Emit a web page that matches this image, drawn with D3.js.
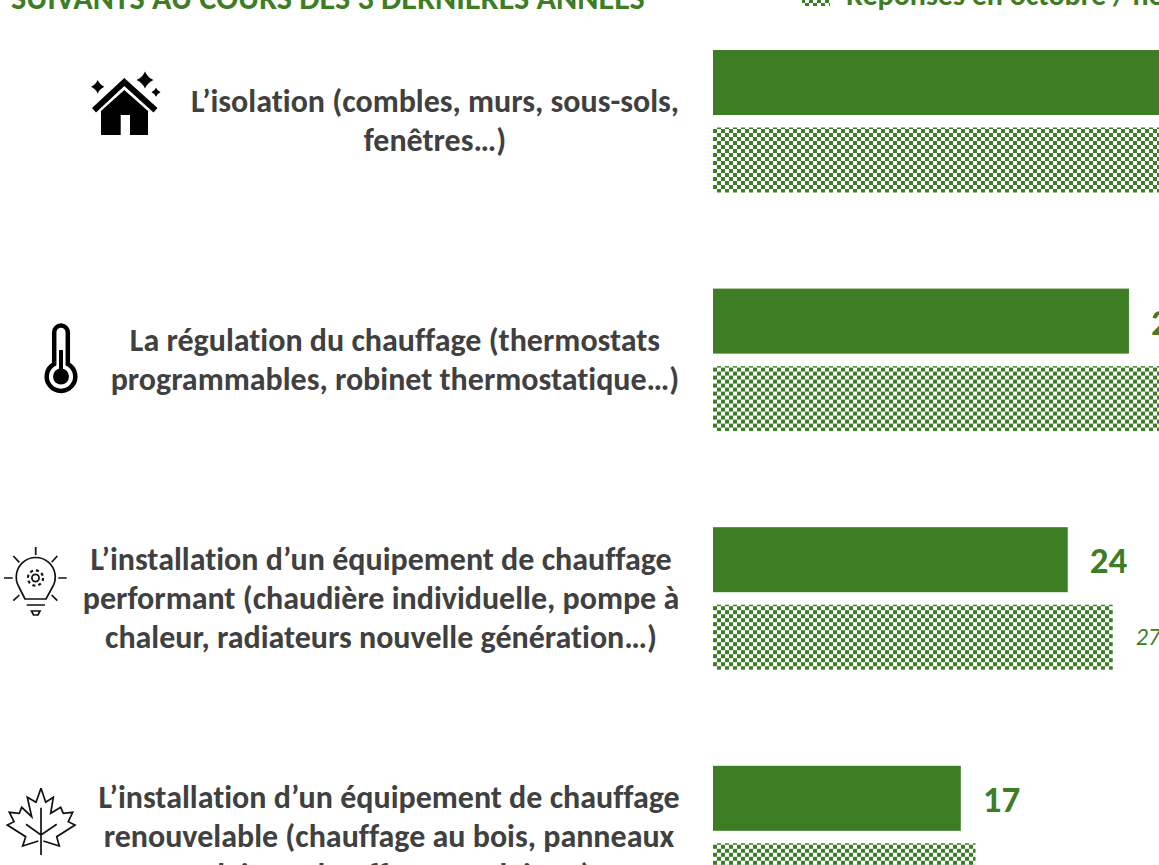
<!DOCTYPE html>
<html>
<head>
<meta charset="utf-8">
<script src="https://cdn.jsdelivr.net/npm/d3@7"></script>
<style>
  html, body { margin: 0; padding: 0; background: #fff; overflow: hidden; }
  text { font-family: Carlito, Lato, "Open Sans", sans-serif; font-variant-ligatures: none; }
</style>
</head>
<body>
<div id="chart"></div>
<script>
// values, the first ones run past the right edge
const categories = ["isolation", "regulation", "equipement", "renouvelable"];
const currentValues = [41, 28.2, 24.05, 16.8];
const previousValues = [39, 31, 27.1, 17.8];
const categoryLines = [
  ["L’isolation (combles, murs, sous-sols,", "fenêtres…)"],
  ["La régulation du chauffage (thermostats", "programmables, robinet thermostatique…)"],
  ["L’installation d’un équipement de chauffage", "performant (chaudière individuelle, pompe à", "chaleur, radiateurs nouvelle génération…)"],
  ["L’installation d’un équipement de chauffage", "renouvelable (chauffage au bois, panneaux", "solaires, chauffe-eau solaire…)"]
];
const titleText = "SUIVANTS AU COURS DES 3 DERNIÈRES ANNÉES";
const legendText = "Réponses en octobre / novembre";

const width = 1159;
const height = 865;
const green = "#3d7d23";
const grey = "#404040";

const svg = d3.select("#chart")
    .append("svg")
    .attr("width", width)
    .attr("height", height)
    .style("display", "block");

// checker fill of the second series
const pattern = svg.append("defs").append("pattern")
    .attr("id", "checker")
    .attr("patternUnits", "userSpaceOnUse")
    .attr("width", 8)
    .attr("height", 8)
    .attr("x", 713)
    .attr("y", 127);
pattern.append("rect").attr("width", 4).attr("height", 4).attr("fill", green);
pattern.append("rect").attr("x", 4).attr("y", 4).attr("width", 4).attr("height", 4).attr("fill", green);

const x = d3.scaleLinear().domain([0, 10]).range([713, 860.5]);
const y = d3.scaleBand().domain(categories).range([50, 50 + 238.6 * 4]);
const fmt = d3.format(".0f");

const rows = svg.selectAll(".row")
    .data(categories)
    .enter()
    .append("g")
    .attr("class", "row")
    .attr("transform", (d) => "translate(0," + y(d) + ")");

rows.append("rect")
    .attr("x", x(0))
    .attr("y", 0)
    .attr("width", (d, i) => x(currentValues[i]) - x(0))
    .attr("height", 65)
    .attr("fill", green);

rows.append("rect")
    .attr("x", x(0))
    .attr("y", 77.5)
    .attr("width", (d, i) => x(previousValues[i]) - x(0))
    .attr("height", 65)
    .attr("fill", "url(#checker)");

rows.append("text")
    .attr("x", (d, i) => x(currentValues[i]) + 22)
    .attr("y", 46)
    .attr("font-size", 37)
    .attr("font-weight", 700)
    .attr("fill", green)
    .text((d, i) => fmt(currentValues[i]));

rows.append("text")
    .attr("x", (d, i) => x(previousValues[i]) + 23)
    .attr("y", 118)
    .attr("font-size", 24)
    .attr("font-style", "italic")
    .attr("fill", green)
    .text((d, i) => fmt(previousValues[i]));

//category labels, centred on their own axis
const labelCenters = [435, 395, 381, 389];
const labelTops = [62, 62, 43, 42];

rows.append("g")
    .selectAll("text")
    .data((d, i) => categoryLines[i].map((line, k) => ({ line: line, k: k, i: i })))
    .enter()
    .append("text")
    .attr("x", (d) => labelCenters[d.i])
    .attr("y", (d) => labelTops[d.i] + d.k * 39)
    .attr("text-anchor", "middle")
    .attr("font-size", 32)
    .attr("font-weight", 700)
    .attr("fill", grey)
    .text((d) => d.line);

// header, cut by the top of the picture
svg.append("text")
    .attr("x", 11)
    .attr("y", 9)
    .attr("font-size", 32.2)
    .attr("font-weight", 700)
    .attr("fill", green)
    .text(titleText);

svg.append("rect")
    .attr("x", 802)
    .attr("y", -14)
    .attr("width", 28)
    .attr("height", 20)
    .attr("fill", "url(#checker)");

svg.append("text")
    .attr("x", 846)
    .attr("y", 5)
    .attr("font-size", 30)
    .attr("font-weight", 700)
    .attr("fill", green)
    .text(legendText);

// icons
const sparkle = (cx, cy, r) => `M${cx},${cy - r}Q${cx + r * 0.3},${cy - r * 0.3} ${cx + r},${cy}Q${cx + r * 0.3},${cy + r * 0.3} ${cx},${cy + r}Q${cx - r * 0.3},${cy + r * 0.3} ${cx - r},${cy}Q${cx - r * 0.3},${cy - r * 0.3} ${cx},${cy - r}Z`;

const house = svg.append("g");
house.append("path")
    .attr("d", "M92,108L124.3,78L157.5,108L153.5,112.5L124.3,86L96,112.5Z")
    .attr("fill", "#000");
house.append("path")
    .attr("d", "M101,111L124.3,90L148,111V135H130V115H120.7V135H101Z")
    .attr("fill", "#000");
[[97.7, 86.7, 6.7], [145, 80, 8.5], [156, 92.3, 4.5]].forEach((s) => {
  house.append("path").attr("d", sparkle(s[0], s[1], s[2])).attr("fill", "#000");
});

const thermo = svg.append("g");
thermo.append("path")
    .attr("d", "M54.2,364V332.3A6.8,6.8 0 0 1 67.8,332.3V364A14.3,14.3 0 1 1 54.2,364Z")
    .attr("fill", "none")
    .attr("stroke", "#000")
    .attr("stroke-width", 4.5);
thermo.append("circle").attr("cx", 61).attr("cy", 376.5).attr("r", 8).attr("fill", "#000");
thermo.append("rect").attr("x", 59).attr("y", 350).attr("width", 4).attr("height", 22).attr("fill", "#000");

const bulb = svg.append("g")
    .attr("fill", "none")
    .attr("stroke", "#111")
    .attr("stroke-width", 1.7);
bulb.append("path").attr("d", "M25,599L19,587A19.5,19.5 0 1 1 52.5,587L46,599Z");
bulb.append("path").attr("d", "M26.7,605H45M31.5,611H40L38,615H33.5Z");
bulb.append("path").attr("d", "M35.7,547V555M13.3,556L19.3,562.3M57.3,556L51.7,562.3M4,578H12.7M58.3,578H66.7M13.3,600.7L19.3,595M57.3,600.7L51.7,595");
bulb.append("circle").attr("cx", 35.5).attr("cy", 578).attr("r", 3.6);
bulb.append("circle").attr("cx", 35.5).attr("cy", 578).attr("r", 7.6).attr("stroke-width", 2.2).attr("stroke-dasharray", "3 3");

const leaf = svg.append("g")
    .attr("fill", "none")
    .attr("stroke", "#111")
    .attr("stroke-width", 1.7)
    .attr("stroke-linejoin", "miter");
leaf.append("path")
    .attr("d", "M41,788.3L45.7,802.3L53.3,797.3L50.7,813.3L60.7,807.3L63.3,813.3L72.7,812.3L68.3,821.7L75,825L56.7,836.7L59.3,846L43.3,841M38.3,841L22.7,846L25.7,836.7L7.3,825L14,821.7L9.3,812.3L19.3,813.3L21.7,807.3L31.7,816.7L27.3,797.3L36,802.3L41,788.3");
leaf.append("path").attr("d", "M41,807.7V855M26,824.3L41,835L56.7,824.3");
</script>
</body>
</html>
